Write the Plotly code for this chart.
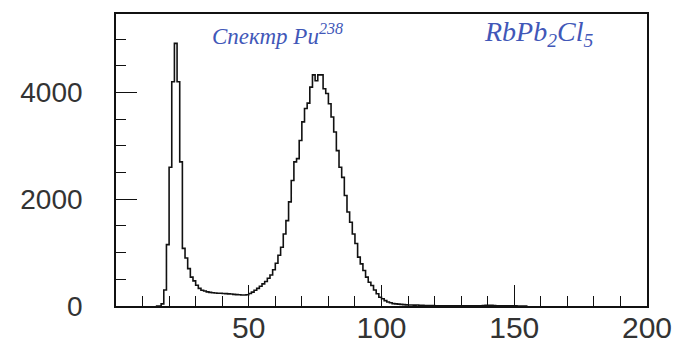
import plotly.graph_objects as go

# Histogram: counts per unit-width bin, first bin starts at channel 15
bin_start = 15
counts = [
    0, 0, 40, 300, 1150, 2600, 4200, 4920, 4200, 2700,          # 15-24
    1080, 900, 700, 540, 470, 390, 330, 295, 280, 265,           # 25-34
    255, 248, 243, 240, 238, 235, 232, 228, 224, 218,            # 35-44
    214, 210, 207, 205, 210, 235, 260, 295, 330, 370,            # 45-54
    415, 460, 520, 580, 680, 800, 950, 1100, 1350, 1600,         # 55-64
    1950, 2350, 2700, 2760, 3100, 3450, 3700, 3800, 4100, 4330,  # 65-74
    4220, 4330, 4330, 4070, 3980, 3790, 3540, 3260, 2910, 2600,  # 75-84
    2410, 2070, 1760, 1570, 1350, 1170, 915, 790, 665, 540,      # 85-94
    445, 385, 300, 230, 165, 135, 100, 75, 60, 45,               # 95-104
    40, 35, 30, 25, 22, 20, 18, 16, 20, 15,                      # 105-114
    12, 10, 10, 8, 8, 6, 6, 5, 5, 5,                             # 115-124
    4, 4, 5, 6, 5, 4, 6, 5, 4, 5,                                # 125-134
    6, 5, 4, 8, 12, 15, 14, 10, 6, 4,                            # 135-144
    4, 3, 3, 2, 2, 2, 1, 1, 1, 0,                                # 145-154
]
x_tick_vals = [50, 100, 150, 200]
x_tick_text = ["50", "100", "150", "200"]
y_tick_vals = [0, 2000, 4000]
y_tick_text = ["0", "2000", "4000"]
note_left = "Спектр Pu<sup>238</sup>"
note_right = "RbPb<sub>2</sub>Cl<sub>5</sub>"

edges = [bin_start + i for i in range(len(counts) + 1)]
ys = counts + [0]

fig = go.Figure()
fig.add_trace(go.Scatter(
    x=edges, y=ys, mode="lines", line=dict(shape="hv", color="#111", width=1.6),
    hoverinfo="skip", showlegend=False))

fig.add_annotation(x=61, y=5080, text=note_left, showarrow=False,
                   font=dict(family="Liberation Serif", size=23, color="#4157b8", style="italic"))
fig.add_annotation(x=159, y=5100, text=note_right, showarrow=False,
                   font=dict(family="Liberation Serif", size=28, color="#4157b8", style="italic"))

axis_common = dict(showgrid=False, zeroline=False, showline=True, linecolor="#111",
                   linewidth=1.6, mirror=True, ticks="inside", tickcolor="#111",
                   tickwidth=1.4, ticklen=21, automargin=False)

fig.update_xaxes(range=[0, 200], tickmode="array", tickvals=x_tick_vals, ticktext=x_tick_text,
                 tickfont=dict(family="Liberation Sans", size=30, color="#333"),
                 ticklabelstandoff=-6,
                 minor=dict(tickmode="linear", tick0=0, dtick=10, ticks="inside", ticklen=10,
                            tickwidth=1.4, tickcolor="#111"),
                 **axis_common)
fig.update_yaxes(range=[0, 5470], tickmode="array", tickvals=y_tick_vals, ticktext=y_tick_text,
                 tickfont=dict(family="Liberation Sans", size=28, color="#333"),
                 ticklabelstandoff=26,
                 minor=dict(tickmode="linear", tick0=0, dtick=500, ticks="inside", ticklen=10,
                            tickwidth=1.4, tickcolor="#111"),
                 **axis_common)

fig.update_layout(width=676, height=345, margin=dict(l=116, r=29, t=14, b=39),
                  paper_bgcolor="white", plot_bgcolor="white")

fig.write_html("out.html")
